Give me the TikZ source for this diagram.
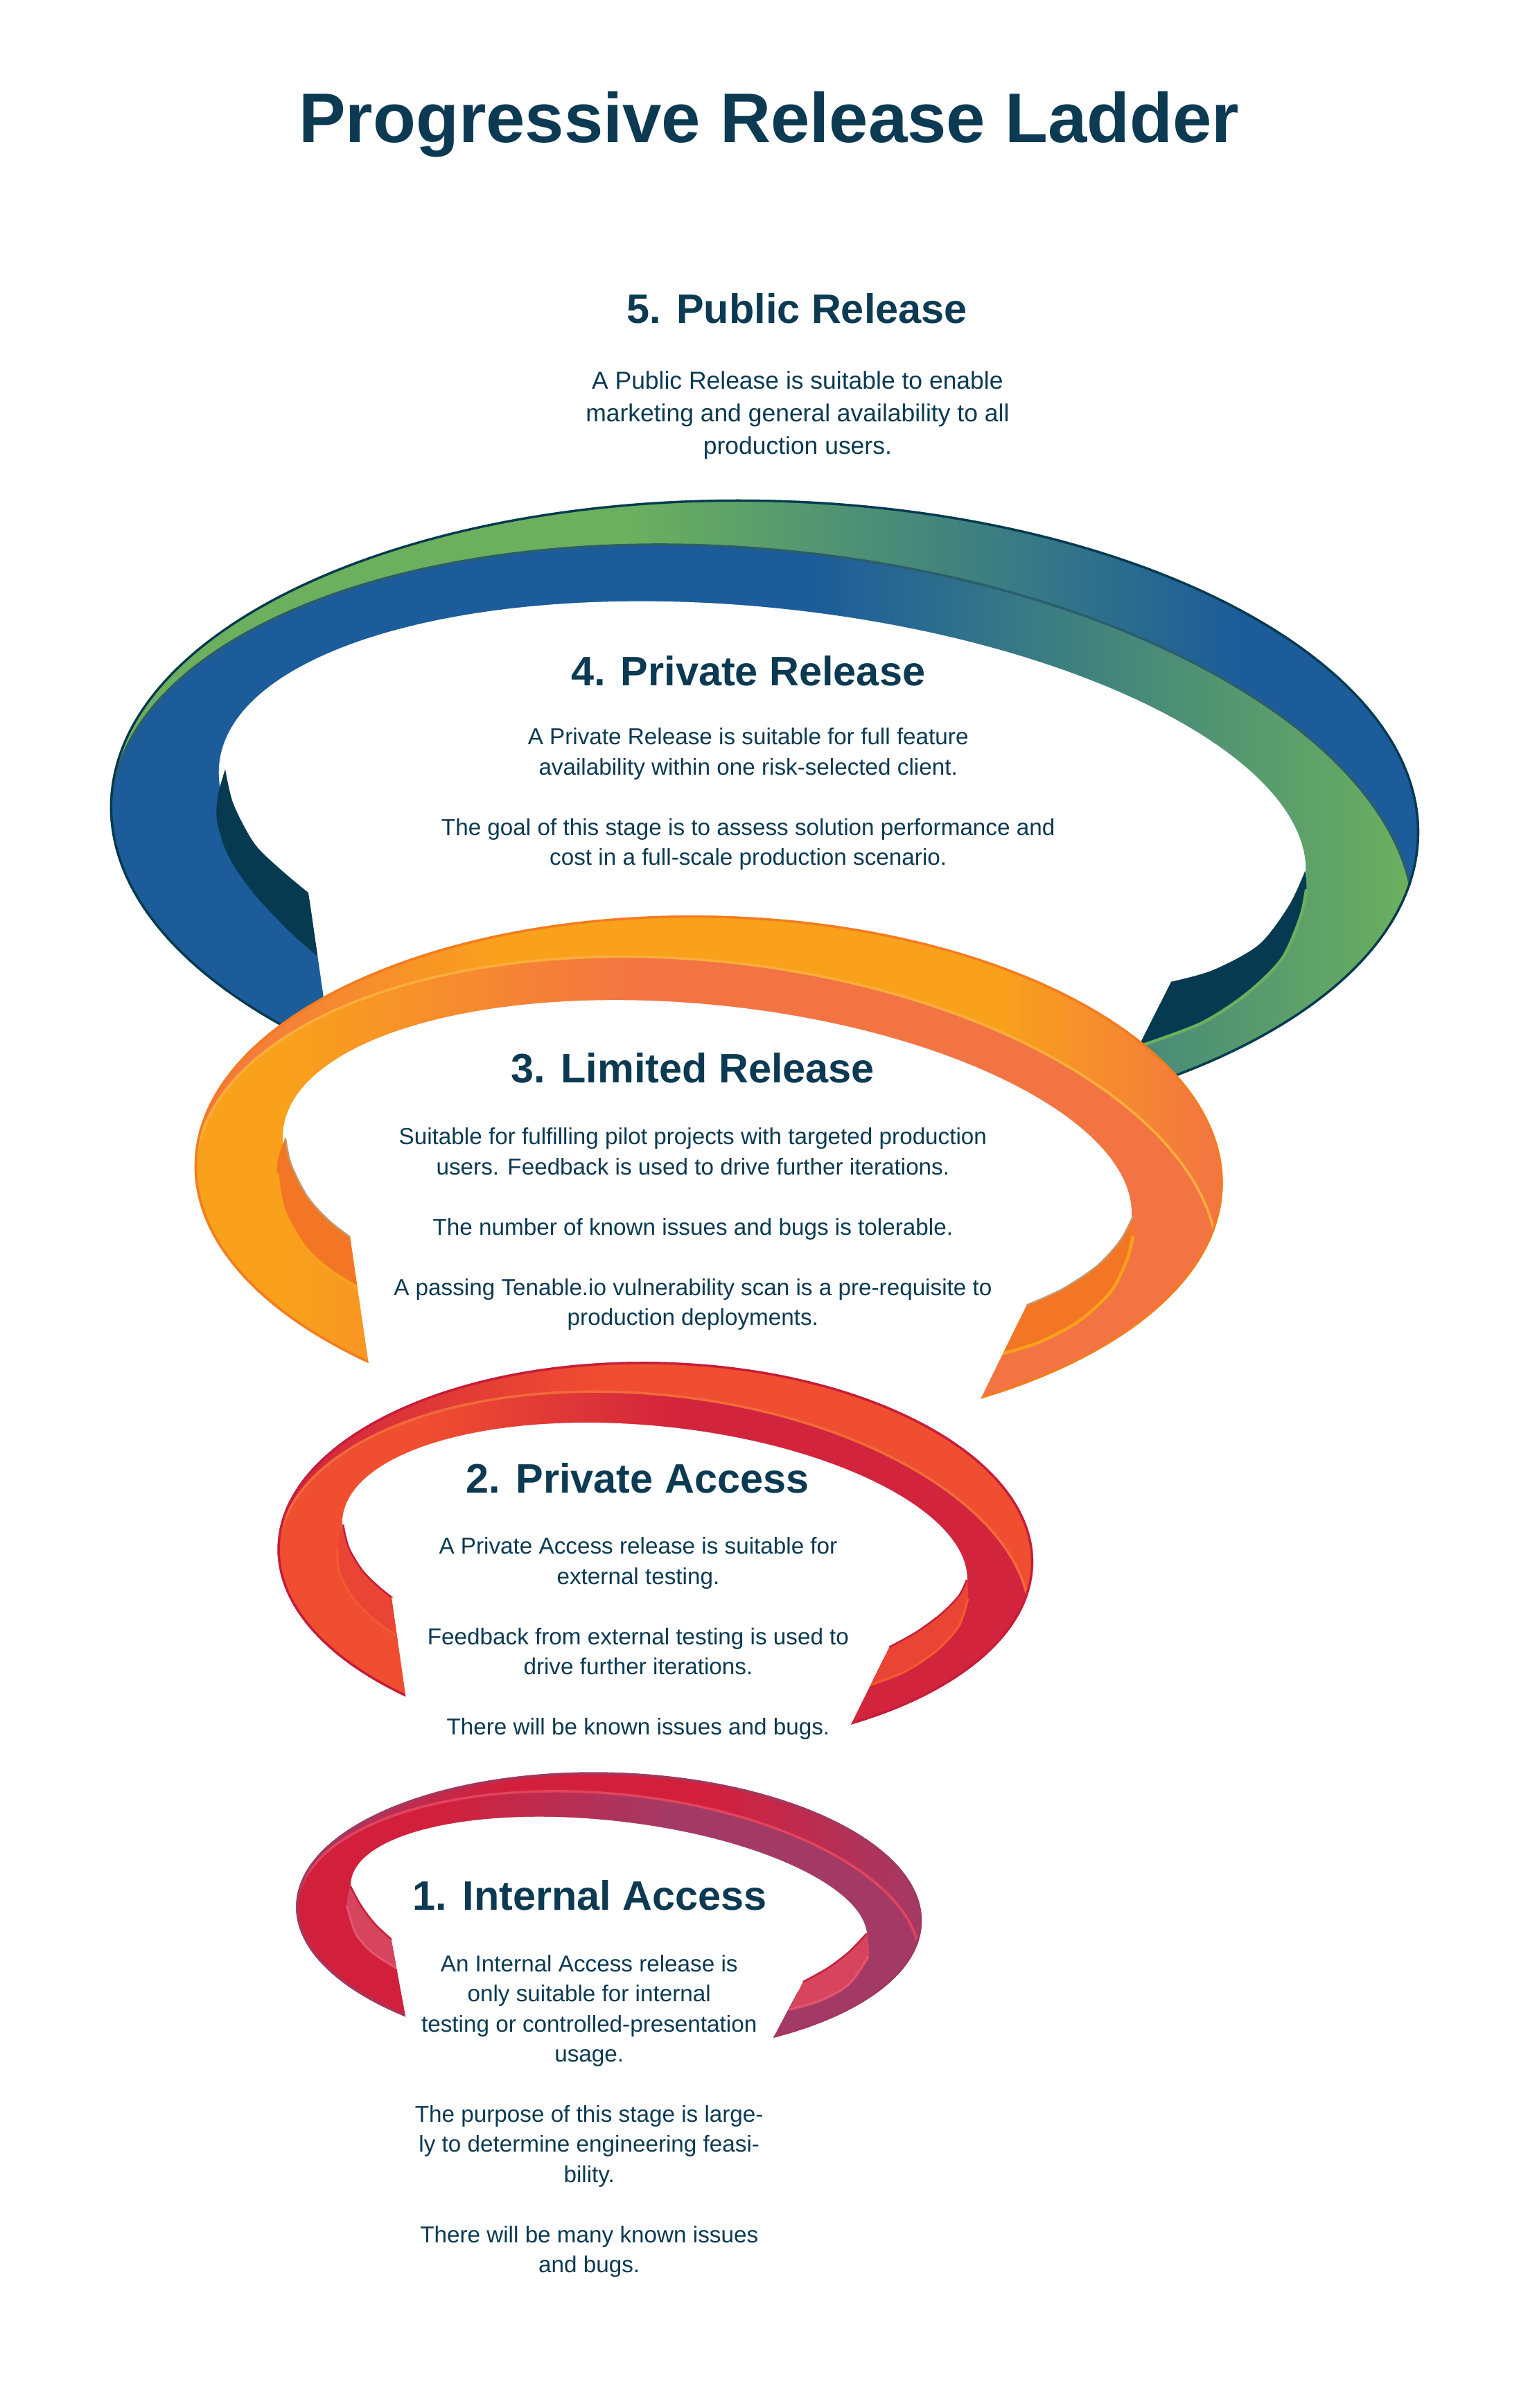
\documentclass[tikz,border=0pt]{standalone}
\usepackage{fontspec}
\setmainfont{Liberation Sans}
\usepackage{tikz}

\definecolor{ink}{HTML}{0B3A52}
\definecolor{grnfour}{HTML}{6BAF5F}
\definecolor{bluefour}{HTML}{1C5C9A}
\definecolor{darkfour}{HTML}{063A50}
\definecolor{seamfour}{HTML}{2B5E6C}
\definecolor{corthree}{HTML}{F37443}
\definecolor{yelthree}{HTML}{F9A11B}
\definecolor{wedgethree}{HTML}{F37624}
\definecolor{edgethree}{HTML}{F47B20}
\definecolor{seamthree}{HTML}{FBAE3C}
\definecolor{tanthree}{HTML}{C49A6C}
\definecolor{crimtwo}{HTML}{D2243D}
\definecolor{orgtwo}{HTML}{F04E30}
\definecolor{wedgetwo}{HTML}{E94434}
\definecolor{edgetwo}{HTML}{C51D3A}
\definecolor{seamtwo}{HTML}{F26A3A}
\definecolor{liptwo}{HTML}{F15A30}
\definecolor{crimone}{HTML}{D2203C}
\definecolor{purone}{HTML}{A33A66}
\definecolor{wedgeone}{HTML}{D6445E}
\definecolor{edgeone}{HTML}{A1385F}
\definecolor{seamone}{HTML}{E2445E}
\definecolor{lipone}{HTML}{E4546E}
\definecolor{cutone}{HTML}{C41F3C}

\pgfdeclarehorizontalshading{rimfour}{100bp}{color(0bp)=(grnfour); color(45bp)=(grnfour); color(68bp)=(bluefour); color(100bp)=(bluefour)}
\pgfdeclarehorizontalshading{mainfour}{100bp}{color(0bp)=(bluefour); color(52bp)=(bluefour); color(74bp)=(grnfour); color(100bp)=(grnfour)}
\pgfdeclarehorizontalshading{rimthree}{100bp}{color(0bp)=(corthree); color(25bp)=(corthree); color(40bp)=(yelthree); color(64bp)=(yelthree); color(75bp)=(corthree); color(100bp)=(corthree)}
\pgfdeclarehorizontalshading{mainthree}{100bp}{color(0bp)=(yelthree); color(30bp)=(yelthree); color(47bp)=(corthree); color(100bp)=(corthree)}
\pgfdeclarehorizontalshading{rimtwo}{100bp}{color(0bp)=(crimtwo); color(25bp)=(crimtwo); color(47bp)=(orgtwo); color(100bp)=(orgtwo)}
\pgfdeclarehorizontalshading{maintwo}{100bp}{color(0bp)=(orgtwo); color(35bp)=(orgtwo); color(52bp)=(crimtwo); color(100bp)=(crimtwo)}
\pgfdeclarehorizontalshading{rimone}{100bp}{color(0bp)=(purone); color(25bp)=(purone); color(42bp)=(crimone); color(58bp)=(crimone); color(75bp)=(purone); color(100bp)=(purone)}
\pgfdeclarehorizontalshading{mainone}{100bp}{color(0bp)=(crimone); color(37bp)=(crimone); color(55bp)=(purone); color(100bp)=(purone)}

\tikzset{
  laddertitle/.style={text=ink, inner sep=0pt, anchor=base, font=\bfseries\fontsize{45.7}{52}\selectfont},
  stagename/.style={text=ink, inner sep=0pt, anchor=base, font=\bfseries\fontsize{26.8}{32}\selectfont},
  stagetext/.style={text=ink, inner sep=0pt, anchor=base, align=center, font=\fontsize{15}{19.6}\selectfont},
  rimedge/.style={line width=3pt},
  seam/.style={line width=1.6pt},
  lip/.style={line width=2pt},
  cutedge/.style={line width=1.1pt},
}

\begin{document}
\begin{tikzpicture}[x=1pt,y=-1pt]
\useasboundingbox (0,0) rectangle (1000,1567.4);
\fill[white] (0,0) rectangle (1000,1567.4);

% ring 4
\begin{scope}
  \clip (200.7,581.1) -- (226.6,760) -- (-10,760) -- (-10,300) -- (1010,300) -- (1010,760) -- (701.7,760) -- (762.3,639) -- cycle;
  \clip (497.7,533.5) ellipse [x radius=426.2, y radius=208.2, rotate=-1.45];
  \shade[shading=rimfour] (497.7,533.5) ellipse [x radius=426.2, y radius=208.2, rotate=-1.45];
  \begin{scope}[rotate around={-4.4:(71.6,525.3)}]
    \shade[shading=mainfour] (497.7,533.5) ellipse [x radius=426.2, y radius=208.2, rotate=-1.45];
    \draw[seam, seamfour] (497.7,533.5) ellipse [x radius=426.2, y radius=208.2, rotate=-1.45];
  \end{scope}
\end{scope}
\fill[white] (496.2,534.85) ellipse [x radius=355.5, y radius=139.2, rotate=-6.1];
\begin{scope}
  \clip (200.7,581.1) -- (226.6,760) -- (-10,760) -- (-10,300) -- (1010,300) -- (1010,760) -- (701.7,760) -- (762.3,639) -- cycle;
  \fill[darkfour] plot[smooth] coordinates {(146.6,500.7) (151.9,523.2) (165.4,548.8) (181.9,565.3) (200.7,581.1)}
    -- plot[smooth] coordinates {(206.7,622.5) (188,605.9) (165.4,581.9) (148.9,557.8) (141.3,535) (141.8,518) (146.6,500.7)} -- cycle;
  \fill[darkfour] plot[smooth] coordinates {(849.5,566.8) (839,589.4) (819.4,614.9) (789.4,631.5) (762.3,639)}
    -- plot[smooth] coordinates {(741.2,681.1) (781.8,666.1) (811.9,646.5) (834.5,624) (846.5,596.9) (850.3,578.9) (849.5,566.8)} -- cycle;
  \draw[lip, grnfour] plot[smooth] coordinates {(741.2,681.1) (781.8,666.1) (811.9,646.5) (834.5,624) (846.5,596.9) (850.3,578.9)};
  \clip (497.7,533.5) ellipse [x radius=426.2, y radius=208.2, rotate=-1.45];
  \draw[rimedge, darkfour] (497.7,533.5) ellipse [x radius=426.2, y radius=208.2, rotate=-1.45];
\end{scope}

% ring 3
\begin{scope}
  \clip (227.8,805.2) -- (250.4,960) -- (-10,960) -- (-10,570) -- (1010,570) -- (1010,960) -- (614.2,960) -- (668.3,849.5) -- cycle;
  \clip (461.3,764.5) ellipse [x radius=334.7, y radius=168.5, rotate=-1.26];
  \shade[shading=rimthree] (461.3,764.5) ellipse [x radius=334.7, y radius=168.5, rotate=-1.26];
  \begin{scope}[rotate around={-5.1:(126.6,759)}]
    \shade[shading=mainthree] (461.3,764.5) ellipse [x radius=334.7, y radius=168.5, rotate=-1.26];
    \draw[seam, seamthree] (461.3,764.5) ellipse [x radius=334.7, y radius=168.5, rotate=-1.26];
  \end{scope}
\end{scope}
\fill[white] (460.3,765.3) ellipse [x radius=277.6, y radius=111.1, rotate=-6.09];
\begin{scope}
  \clip (227.8,805.2) -- (250.4,960) -- (-10,960) -- (-10,570) -- (1010,570) -- (1010,960) -- (614.2,960) -- (668.3,849.5) -- cycle;
  \fill[wedgethree] plot[smooth] coordinates {(185.7,740.5) (189.4,757.8) (200,778.8) (213.5,793.9) (227.8,805.2)}
    -- plot[smooth] coordinates {(233,838.2) (215,827) (198.5,811.9) (184.9,787.9) (180.4,763.8) (181.2,753.3) (185.7,740.5)} -- cycle;
  \fill[wedgethree] plot[smooth] coordinates {(737.5,791.6) (729.2,807.4) (714.2,823.9) (691.6,839) (668.3,849.5)}
    -- plot[smooth] coordinates {(652.5,881.1) (676.6,873.6) (702.2,860) (723.2,840.5) (733.7,819.5) (737.5,804.4) (737.5,791.6)} -- cycle;
  \draw[lip, yelthree] plot[smooth] coordinates {(233,838.2) (215,827) (198.5,811.9) (184.9,787.9) (180.4,763.8)};
  \draw[lip, yelthree] plot[smooth] coordinates {(652.5,881.1) (676.6,873.6) (702.2,860) (723.2,840.5) (733.7,819.5) (737.5,804.4)};
  \draw[cutedge, tanthree] plot[smooth] coordinates {(185.7,740.5) (189.4,757.8) (200,778.8) (213.5,793.9) (227.8,805.2)};
  \draw[cutedge, tanthree] plot[smooth] coordinates {(737.5,791.6) (729.2,807.4) (714.2,823.9) (691.6,839) (668.3,849.5)};
  \clip (461.3,764.5) ellipse [x radius=334.7, y radius=168.5, rotate=-1.26];
  \draw[rimedge, edgethree] (461.3,764.5) ellipse [x radius=334.7, y radius=168.5, rotate=-1.26];
\end{scope}

% ring 2
\begin{scope}
  \clip (254.8,1039.7) -- (271.9,1160) -- (-10,1160) -- (-10,860) -- (1010,860) -- (1010,1160) -- (535.5,1160) -- (578.9,1072) -- cycle;
  \clip (426.6,1012.5) ellipse [x radius=246, y radius=126, rotate=-1.31];
  \shade[shading=rimtwo] (426.6,1012.5) ellipse [x radius=246, y radius=126, rotate=-1.31];
  \begin{scope}[rotate around={-5.0:(180.6,1008.3)}]
    \shade[shading=maintwo] (426.6,1012.5) ellipse [x radius=246, y radius=126, rotate=-1.31];
    \draw[seam, seamtwo] (426.6,1012.5) ellipse [x radius=246, y radius=126, rotate=-1.31];
  \end{scope}
\end{scope}
\fill[white] (426.15,1009.9) ellipse [x radius=204.4, y radius=81.5, rotate=-6.05];
\begin{scope}
  \clip (254.8,1039.7) -- (271.9,1160) -- (-10,1160) -- (-10,860) -- (1010,860) -- (1010,1160) -- (535.5,1160) -- (578.9,1072) -- cycle;
  \fill[wedgetwo] plot[smooth] coordinates {(223.3,992.3) (227,1007.4) (236,1022.4) (246.6,1033) (254.8,1039.7)}
    -- plot[smooth] coordinates {(257.9,1064.5) (245.1,1055.5) (230,1040.5) (221,1023.9) (219.5,1007.4) (223.3,992.3)} -- cycle;
  \fill[wedgetwo] plot[smooth] coordinates {(629.2,1028.4) (624,1038.9) (612,1051) (595.4,1063) (578.9,1072)}
    -- plot[smooth] coordinates {(566.1,1096.8) (587.9,1088.6) (608.9,1075) (624,1058.5) (630,1040.5) (629.2,1028.4)} -- cycle;
  \draw[lip, liptwo, line width=1.5pt] plot[smooth] coordinates {(257.9,1064.5) (245.1,1055.5) (230,1040.5) (221,1023.9) (219.5,1007.4)};
  \draw[lip, liptwo, line width=1.5pt] plot[smooth] coordinates {(566.1,1096.8) (587.9,1088.6) (608.9,1075) (624,1058.5) (630,1040.5)};
  \draw[cutedge, edgetwo] plot[smooth] coordinates {(223.3,992.3) (227,1007.4) (236,1022.4) (246.6,1033) (254.8,1039.7)};
  \draw[cutedge, edgetwo] plot[smooth] coordinates {(629.2,1028.4) (624,1038.9) (612,1051) (595.4,1063) (578.9,1072)};
  \clip (426.6,1012.5) ellipse [x radius=246, y radius=126, rotate=-1.31];
  \draw[rimedge, edgetwo] (426.6,1012.5) ellipse [x radius=246, y radius=126, rotate=-1.31];
\end{scope}

% ring 1
\begin{scope}
  \clip (254.6,1262.2) -- (274.4,1370) -- (-10,1370) -- (-10,1130) -- (1010,1130) -- (1010,1370) -- (480.2,1370) -- (522.7,1290) -- cycle;
  \clip (396.35,1245.7) ellipse [x radius=203.7, y radius=92, rotate=-1.6];
  \shade[shading=rimone] (396.35,1245.7) ellipse [x radius=203.7, y radius=92, rotate=-1.6];
  \begin{scope}[rotate around={-3.9:(192.7,1241)}]
    \shade[shading=mainone] (396.35,1245.7) ellipse [x radius=203.7, y radius=92, rotate=-1.6];
    \draw[seam, seamone] (396.35,1245.7) ellipse [x radius=203.7, y radius=92, rotate=-1.6];
  \end{scope}
\end{scope}
\fill[white] (396.3,1244.05) ellipse [x radius=169, y radius=58.9, rotate=-6.44];
\begin{scope}
  \clip (254.6,1262.2) -- (274.4,1370) -- (-10,1370) -- (-10,1130) -- (1010,1130) -- (1010,1370) -- (480.2,1370) -- (522.7,1290) -- cycle;
  \fill[wedgeone] plot[smooth] coordinates {(228.1,1227.7) (235,1240.4) (244.2,1252.5) (254.6,1262.2)}
    -- plot[smooth] coordinates {(258,1281) (241.9,1270.5) (231.6,1258.5) (225.8,1240.4) (228.1,1227.7)} -- cycle;
  \fill[wedgeone] plot[smooth] coordinates {(564.1,1258.5) (552.6,1270.5) (538.8,1281) (522.7,1290)}
    -- plot[smooth] coordinates {(513.5,1308.1) (534.2,1302.1) (552.6,1291.5) (565.2,1273.5) (564.1,1258.5)} -- cycle;
  \draw[lip, lipone, line width=1.5pt] plot[smooth] coordinates {(258,1281) (241.9,1270.5) (231.6,1258.5) (225.8,1240.4)};
  \draw[lip, lipone, line width=1.5pt] plot[smooth] coordinates {(513.5,1308.1) (534.2,1302.1) (552.6,1291.5) (565.2,1273.5)};
  \draw[cutedge, cutone] plot[smooth] coordinates {(228.1,1227.7) (235,1240.4) (244.2,1252.5) (254.6,1262.2)};
  \draw[cutedge, cutone] plot[smooth] coordinates {(564.1,1258.5) (552.6,1270.5) (538.8,1281) (522.7,1290)};
  \clip (396.35,1245.7) ellipse [x radius=203.7, y radius=92, rotate=-1.6];
  \draw[rimedge, edgeone] (396.35,1245.7) ellipse [x radius=203.7, y radius=92, rotate=-1.6];
\end{scope}

% texts
\node[laddertitle] (title) at (500.6,92.6) {Progressive Release Ladder};
\node[stagename] (namefive) at (518.8,210.4) {5. Public Release};
\node[stagetext, font=\fontsize{16}{21.15}\selectfont] (textfive) at (519.1,295.5) {A Public Release is suitable to enable\\marketing and general availability to all\\production users.};
\node[stagename] (namefour) at (487,446.1) {4. Private Release};
\node[stagetext] (textfour) at (487,563.2) {A Private Release is suitable for full feature\\availability within one risk-selected client.\\[19.6pt]The goal of this stage is to assess solution performance and\\cost in a full-scale production scenario.};
\node[stagename] (namethree) at (451,704.6) {3. Limited Release};
\node[stagetext] (textthree) at (451,862.7) {Suitable for fulfilling pilot projects with targeted production\\users. Feedback is used to drive further iterations.\\[19.6pt]The number of known issues and bugs is tolerable.\\[19.6pt]A passing Tenable.io vulnerability scan is a pre-requisite to\\production deployments.};
\node[stagename] (nametwo) at (415,971.9) {2. Private Access};
\node[stagetext] (texttwo) at (415.4,1129.2) {A Private Access release is suitable for\\external testing.\\[19.6pt]Feedback from external testing is used to\\drive further iterations.\\[19.6pt]There will be known issues and bugs.};
\node[stagename] (nameone) at (384,1243.5) {1. Internal Access};
\node[stagetext] (textone) at (383.5,1479.3) {An Internal Access release is\\only suitable for internal\\testing or controlled-presentation\\usage.\\[19.6pt]The purpose of this stage is large-\\ly to determine engineering feasi-\\bility.\\[19.6pt]There will be many known issues\\and bugs.};
\end{tikzpicture}
\end{document}
